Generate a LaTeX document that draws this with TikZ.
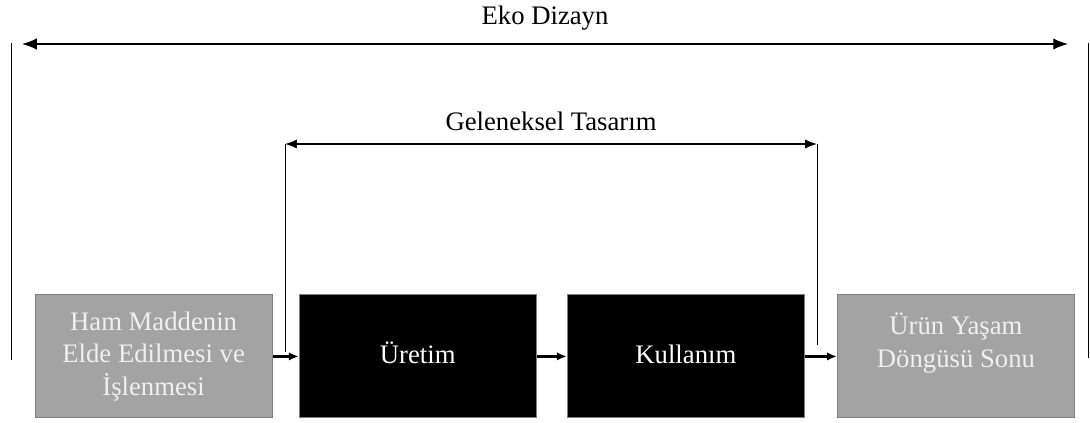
\documentclass[tikz,border=0pt]{standalone}
\usepackage{fontspec}
\setmainfont{Liberation Serif}
\usetikzlibrary{positioning,arrows.meta}

\definecolor{boxgray}{HTML}{A3A3A3}
\definecolor{edgegray}{HTML}{7F7F7F}

\begin{document}
\begin{tikzpicture}
                    [>={Latex[length=8.5pt,width=6.5pt]},node distance=0.72cm,
                     phase/.style={minimum width=5.925cm,minimum height=3.075cm,inner sep=0pt,align=center,
                                   font=\fontsize{19}{23}\selectfont,draw=edgegray,line width=0.8pt},
                     outer/.style={phase,fill=boxgray,text=white!94!black},
                     inner/.style={phase,fill=black,text=white,text height=14pt,text depth=4pt},
                     caption/.style={font=\fontsize{19}{23}\selectfont}]

                \useasboundingbox (0,0) rectangle (27.25,-10.575);

                % the four phases of the product's life
                \node[outer] (ham) at (3.84,-8.91) {Ham Maddenin\\Elde Edilmesi ve\\İşlenmesi};
                \node[inner,right=0.65cm of ham] (uretim) {Üretim};
                \node[inner,right=0.75cm of uretim] (kullanim) {Kullanım};
                \node[outer,right=0.8cm of kullanim] (son) {Ürün Yaşam\\Döngüsü Sonu\\\mbox{}};

                \draw[-{Latex[length=7pt,width=6pt]},line width=1.6pt] (ham) -- (uretim);
                \draw[-{Latex[length=7pt,width=6pt]},line width=1.6pt] (uretim) -- (kullanim);
                \draw[-{Latex[length=7pt,width=6pt]},line width=1.6pt] (kullanim) -- (son);

                % span of the eco design
                \coordinate (ekoL) at (0.55,-1.1);
                \coordinate (ekoR) at (26.7,-1.1);
                \coordinate (ekoTL) at (0.275,-1.07);
                \coordinate (ekoBL) at (0.275,-9);
                \coordinate (ekoTR) at (27.22,-1.07);
                \coordinate (ekoBR) at (27.22,-8.95);
                \draw[{Latex[length=10.5pt,width=8pt]}-{Latex[length=10.5pt,width=8pt]},line width=0.9pt]
                    (ekoL) -- (ekoR) node[caption,midway,above=0.2cm] {Eko Dizayn};
                \draw[line width=0.6pt] (ekoTL) -- (ekoBL);
                \draw[line width=0.6pt] (ekoTR) -- (ekoBR);

                % span of the traditional design
                \coordinate (genL) at (7.125,-3.6);
                \coordinate (genR) at (20.425,-3.6);
                \coordinate (genBL) at (7.125,-8.8);
                \coordinate (genBR) at (20.425,-8.63);
                \draw[<->,line width=0.9pt] (genL) -- (genR) node[caption,midway,above=0.2cm] {Geleneksel Tasarım};
                \draw[line width=0.6pt] (genL) -- (genBL);
                \draw[line width=0.6pt] (genR) -- (genBR);

                \end{tikzpicture}
\end{document}
